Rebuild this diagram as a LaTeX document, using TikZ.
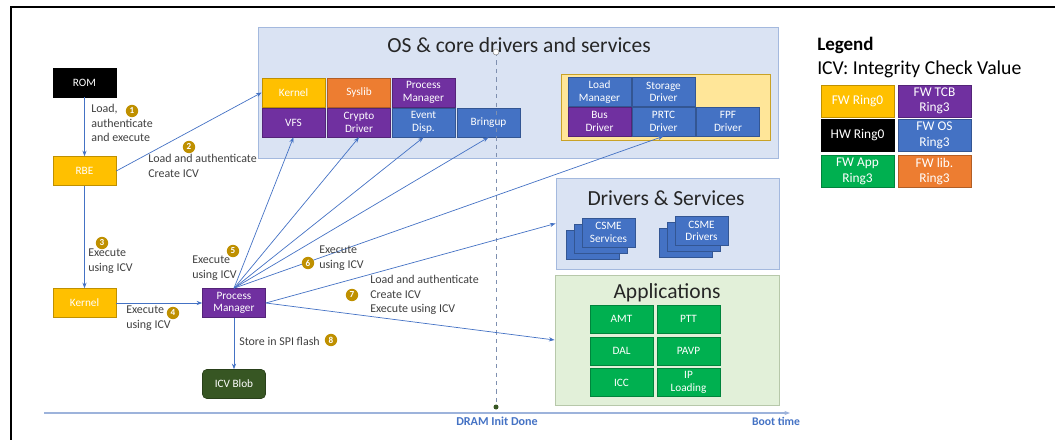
\documentclass[tikz,border=0pt]{standalone}
\usepackage{fontspec}
\setmainfont{Carlito}
\usepackage{tikz}
\usetikzlibrary{positioning,arrows.meta}

\definecolor{ringyellow}{HTML}{FFC000}
\definecolor{tcbpurple}{HTML}{7030A0}
\definecolor{osblue}{HTML}{4472C4}
\definecolor{appgreen}{HTML}{00B050}
\definecolor{liborange}{HTML}{ED7D31}
\definecolor{blobgreen}{HTML}{375623}
\definecolor{panelblue}{HTML}{DAE3F3}
\definecolor{panelline}{HTML}{A4B9DE}
\definecolor{appbg}{HTML}{E2F0D9}
\definecolor{appline}{HTML}{B7C8AA}
\definecolor{corebg}{HTML}{FFE699}
\definecolor{coreline}{HTML}{C9A227}
\definecolor{stepgold}{HTML}{BF9000}
\definecolor{timeblue}{HTML}{4472C4}
\definecolor{axisblue}{HTML}{9DB3DB}

\begin{document}
\begin{tikzpicture}[x=0.025cm, y=-0.025cm,
  box/.style={fill=#1, draw=#1!75!black, line width=0.4pt, text=white, align=center,
    inner sep=0pt, minimum width=1.575cm, minimum height=0.725cm,
    font=\fontsize{8}{9}\selectfont},
  panel/.style={fill=#1, line width=0.6pt, inner sep=0pt},
  stepnum/.style={circle, fill=stepgold, text=white, inner sep=0pt, minimum size=0.31cm,
    font=\fontsize{6.5}{6.5}\selectfont\bfseries},
  lbl/.style={anchor=north west, align=left, inner sep=0pt, text=black!75,
    font=\fontsize{8.5}{10.3}\selectfont},
  flow/.style={-{Stealth[length=4pt,width=3pt]}, osblue, line width=0.5pt},
  title/.style={text=black!85, font=\fontsize{15.3}{16}\selectfont}]

\useasboundingbox (0,0) rectangle (1055,440);

% frame
\draw[line width=2pt] (11,440) -- (11,7) -- (1055,7);

%% panels
\node[panel=panelblue, draw=panelline, minimum width=13cm, minimum height=3.275cm] (os) at (518,92.5) {};
\node[title] at (519,45) {OS \& core drivers and services};
\node[panel=panelblue, draw=panelline, minimum width=5.575cm, minimum height=2.275cm] (ds) at (667.5,223.5) {};
\node[title] at (666,198) {Drivers \& Services};
\node[panel=appbg, draw=appline, minimum width=5.6cm, minimum height=3.25cm] (apps) at (667,340) {};
\node[title] at (667,293) {Applications};
\node[panel=corebg, draw=coreline, minimum width=5.225cm, minimum height=1.65cm] (core) at (665.5,107) {};

%% boot flow
\node[box=black] (rom) at (84.5,82.5) {ROM};
\node[box=ringyellow] (rbe) at (84.5,171) {RBE};
\node[box=ringyellow] (kernel) at (84.5,303) {Kernel};
\node[box=tcbpurple] (pm) at (234,303) {Process\\Manager};
\node[box=blobgreen, rounded corners=3pt] (blob) at (234,384) {ICV Blob};

%% OS & core drivers
\node[box=ringyellow] (oskernel) at (293.5,92.5) {Kernel};
\node[box=liborange] (syslib) at (359,92.5) {Syslib};
\node[box=tcbpurple] (ospm) at (423.5,92.5) {Process\\Manager};
\node[box=tcbpurple] (vfs) at (293.5,122.5) {VFS};
\node[box=tcbpurple] (crypto) at (359,122.5) {Crypto\\Driver};
\node[box=osblue] (event) at (423.5,122.5) {Event\\Disp.};
\node[box=osblue] (bringup) at (488.5,122.5) {Bringup};
\node[box=osblue] (loadmgr) at (599.5,92) {Load\\Manager};
\node[box=osblue] (storage) at (663.5,92) {Storage\\Driver};
\node[box=tcbpurple] (bus) at (599.5,121.5) {Bus\\Driver};
\node[box=osblue] (prtc) at (663.5,121.5) {PRTC\\Driver};
\node[box=osblue] (fpf) at (728,121.5) {FPF\\Driver};

%% CSME stacks
\foreach \k in {2,1}
  {
  \node[box=osblue, minimum width=1.325cm] (svc\k) at (608.5-8*\k,232.5+6*\k) {};
  \node[box=osblue, minimum width=1.325cm] (drv\k) at (701.5-8*\k,231+6*\k) {};
  }
\node[box=osblue, minimum width=1.325cm] (svc0) at (608.5,232.5) {CSME\\Services};
\node[box=osblue, minimum width=1.325cm] (drv0) at (701.5,231) {CSME\\Drivers};

%% applications
\foreach \name/\x/\y in {AMT/621.5/319, PTT/688.5/319, DAL/621.5/351, PAVP/688.5/351, ICC/621.5/382.5}
  \node[box=appgreen, minimum height=0.7cm] (\name) at (\x,\y) {\name};
\node[box=appgreen, minimum height=0.7cm] (iploading) at (688.5,382.5) {IP\\Loading};

%% legend
\node[anchor=west, inner sep=0pt, font=\fontsize{13.5}{14}\selectfont\bfseries] (legend) at (817,45) {Legend};
\node[anchor=west, inner sep=0pt, font=\fontsize{14}{15}\selectfont] (icv) at (817,69) {ICV: Integrity Check Value};
\tikzset{key/.style={box=#1, minimum width=1.825cm, minimum height=0.8cm, font=\fontsize{9.5}{11}\selectfont}}
\node[key=ringyellow] (k1) at (857.5,101) {FW Ring0};
\node[key=tcbpurple] (k2) at (934.5,101) {FW TCB\\Ring3};
\node[key=black] (k3) at (857.5,135.5) {HW Ring0};
\node[key=osblue] (k4) at (934.5,135.5) {FW OS\\Ring3};
\node[key=appgreen] (k5) at (857.5,171.5) {FW App\\Ring3};
\node[key=liborange] (k6) at (934.5,171.5) {FW lib.\\Ring3};

%% time line
\coordinate (tstart) at (44,413);
\coordinate (tend) at (790,413);
\draw[axisblue, line width=1pt, -{Stealth[length=4pt,width=3pt]}] (tstart) -- (tend);
\node[text=timeblue, font=\fontsize{8.6}{9}\selectfont\bfseries] (dram) at (497,421) {DRAM Init Done};
\node[text=timeblue, font=\fontsize{8.3}{9}\selectfont\bfseries] (boot) at (776,421) {Boot time};
\coordinate (dramtop) at (496,52);
\coordinate (dramdot) at (496,407);
\draw[axisblue!80!black, dashed, line width=0.6pt] (dramtop) -- (dramdot);
\draw[black!45, fill=white] (dramtop) circle [radius=3];
\fill[blobgreen] (dramdot) circle [radius=2.5];

%% arrows
\draw[flow] (rom) -- (rbe);
\draw[flow] (rbe.east) -- (oskernel.west);
\draw[flow] (rbe) -- (kernel);
\draw[flow] (kernel) -- (pm);
\foreach \target in {vfs, crypto, event, bringup, prtc}
  \draw[flow] (pm.north) -- (\target.south);
\draw[flow] (pm.east) -- (ds.west);
\draw[flow] (pm.east) -- (apps.west);
\draw[flow] (pm) -- (blob);

%% step labels
\node[lbl] (t1) at (91,104) {Load,\\authenticate\\and execute};
\node[stepnum] (n1) at (132,111) {1};
\node[stepnum] (n2) at (189,147) {2};
\node[lbl] (t2) at (148,154) {Load and authenticate\\Create ICV};
\node[stepnum] (n3) at (102,243) {3};
\node[lbl] (t3) at (88,249) {Execute\\using ICV};
\node[stepnum] (n4) at (173,313) {4};
\node[lbl] (t4) at (126,306) {Execute\\using ICV};
\node[stepnum] (n5) at (233,251) {5};
\node[lbl] (t5) at (192,256) {Execute\\using ICV};
\node[stepnum] (n6) at (308,263) {6};
\node[lbl] (t6) at (319,246) {Execute\\using ICV};
\node[stepnum] (n7) at (352,295) {7};
\node[lbl] (t7) at (370,275) {Load and authenticate\\Create ICV\\Execute using ICV};
\node[lbl, anchor=west] (t8) at (239,341) {Store in SPI flash};
\node[stepnum] (n8) at (331,340) {8};

\end{tikzpicture}
\end{document}
